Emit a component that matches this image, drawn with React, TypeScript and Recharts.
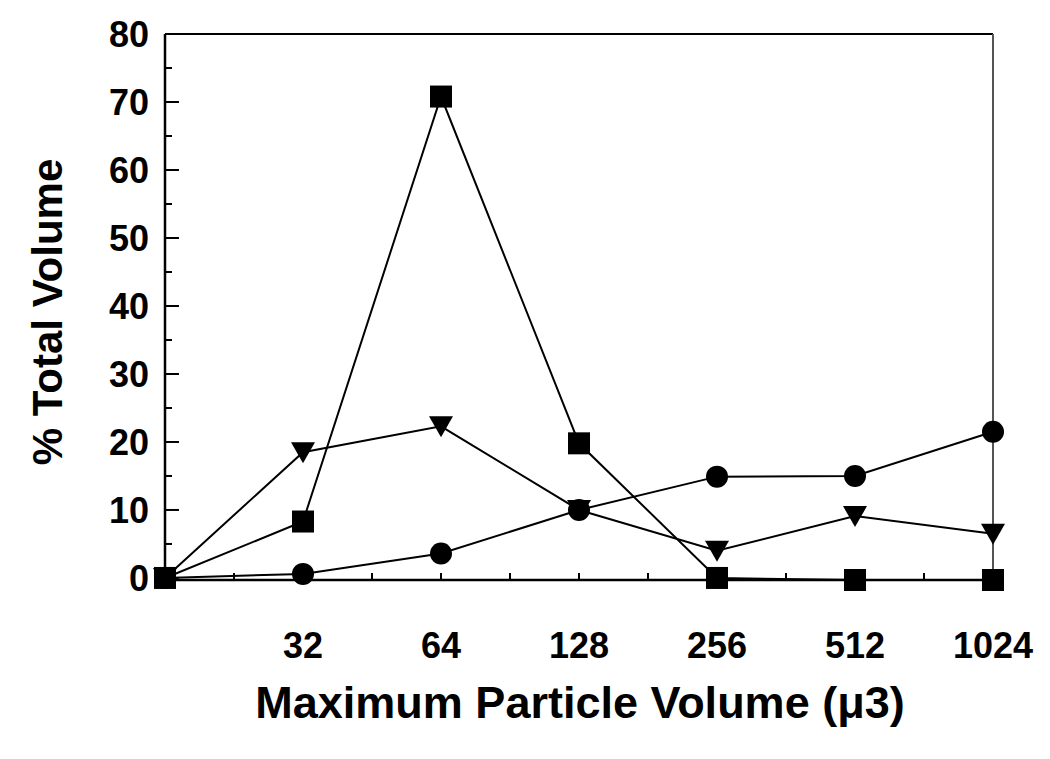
import { LineChart, Line, XAxis, YAxis, ReferenceLine } from "recharts"

const categories = ["", "32", "64", "128", "256", "512", "1024"]
const squareValues = [0, 8.3, 70.8, 19.8, 0, -0.3, -0.3]
const triangleValues = [0, 18.5, 22.3, 10, 4, 9.1, 6.5]
const circleValues = [0, 0.6, 3.6, 10, 14.9, 15, 21.5]
const yTicks = [0, 5, 10, 15, 20, 25, 30, 35, 40, 45, 50, 55, 60, 65, 70, 75, 80]
const xTicks = [0, 0.5, 1, 1.5, 2, 2.5, 3, 3.5, 4, 4.5, 5, 5.5, 6]

const data = categories.map((c, i) => ({
    idx: i,
    label: c,
    square: squareValues[i],
    triangle: triangleValues[i],
    circle: circleValues[i],
}))

const FONT = "'Liberation Sans', Arial, sans-serif"

const SquareDot = (p: any) => (
    <rect key={`s-${p.index}`} x={p.cx - 11} y={p.cy - 11} width={22} height={22} fill="#000" />
)
const CircleDot = (p: any) => (
    <circle key={`c-${p.index}`} cx={p.cx} cy={p.cy} r={11} fill="#000" />
)
const TriangleDot = (p: any) => (
    <path
        key={`t-${p.index}`}
        d={`M${p.cx - 12},${p.cy - 10} L${p.cx + 12},${p.cy - 10} L${p.cx},${p.cy + 11} Z`}
        fill="#000"
    />
)

// y ticks: label left of axis, tick mark pointing inward
const YTick = (p: any) => {
    const v = p.payload.value
    const axisX = p.x + 16
    const major = v % 10 === 0
    return (
        <g>
            <line x1={axisX} x2={axisX + (major ? 14 : 7)} y1={p.y} y2={p.y} stroke="#000" strokeWidth={2} />
            {major && (
                <text x={p.x} y={p.y} dy={13} textAnchor="end" fontFamily={FONT} fontWeight="bold" fontSize={36} fill="#000">
                    {v}
                </text>
            )}
        </g>
    )
}

const XTick = (p: any) => {
    const v = p.payload.value
    const isInt = Number.isInteger(v)
    return (
        <g>
            <line x1={p.x} x2={p.x} y1={p.y} y2={p.y - 7} stroke="#000" strokeWidth={2} />
            {isInt && v > 0 && (
                <text x={p.x} y={p.y + 78} textAnchor="middle" fontFamily={FONT} fontWeight="bold" fontSize={36} fill="#000">
                    {categories[v]}
                </text>
            )}
        </g>
    )
}

export default function App() {
    return (
        <div style={{ position: "relative", width: 1040, height: 745, background: "#fff" }}>
            <LineChart
                width={1040}
                height={745}
                data={data}
                margin={{ top: 26, right: 55, left: 67, bottom: 93 }}
            >
                <XAxis
                    dataKey="idx"
                    type="number"
                    domain={[0, 6]}
                    ticks={xTicks}
                    interval={0}
                    height={80}
                    tickSize={0}
                    tickMargin={0}
                    tickLine={false}
                    tick={<XTick />}
                    axisLine={{ stroke: "#000", strokeWidth: 2.5 }}
                />
                <YAxis
                    type="number"
                    domain={[0, 80]}
                    ticks={yTicks}
                    interval={0}
                    width={90}
                    tickSize={0}
                    tickMargin={16}
                    tickLine={false}
                    tick={<YTick />}
                    axisLine={{ stroke: "#000", strokeWidth: 2.5 }}
                />
                <ReferenceLine y={80} stroke="#000" strokeWidth={2} />
                <ReferenceLine x={6} stroke="#555" strokeWidth={2} />
                <Line
                    dataKey="triangle"
                    stroke="#000"
                    strokeWidth={2}
                    dot={TriangleDot}
                    activeDot={false}
                    isAnimationActive={false}
                />
                <Line
                    dataKey="circle"
                    stroke="#000"
                    strokeWidth={2}
                    dot={CircleDot}
                    activeDot={false}
                    isAnimationActive={false}
                />
                <Line
                    dataKey="square"
                    stroke="#000"
                    strokeWidth={2}
                    dot={SquareDot}
                    activeDot={false}
                    isAnimationActive={false}
                />
            </LineChart>
            <div
                style={{
                    position: "absolute",
                    left: 572,
                    top: 695,
                    transform: "translate(-50%, -50%)",
                    whiteSpace: "nowrap",
                    fontFamily: FONT,
                    fontWeight: "bold",
                    fontSize: 45,
                    color: "#000",
                }}
            >
                Maximum Particle Volume (μ3)
            </div>
            <div
                style={{
                    position: "absolute",
                    left: 40,
                    top: 304,
                    transform: "translate(-50%, -50%) rotate(-90deg)",
                    whiteSpace: "nowrap",
                    fontFamily: FONT,
                    fontWeight: "bold",
                    fontSize: 42,
                    color: "#000",
                }}
            >
                % Total Volume
            </div>
        </div>
    )
}
